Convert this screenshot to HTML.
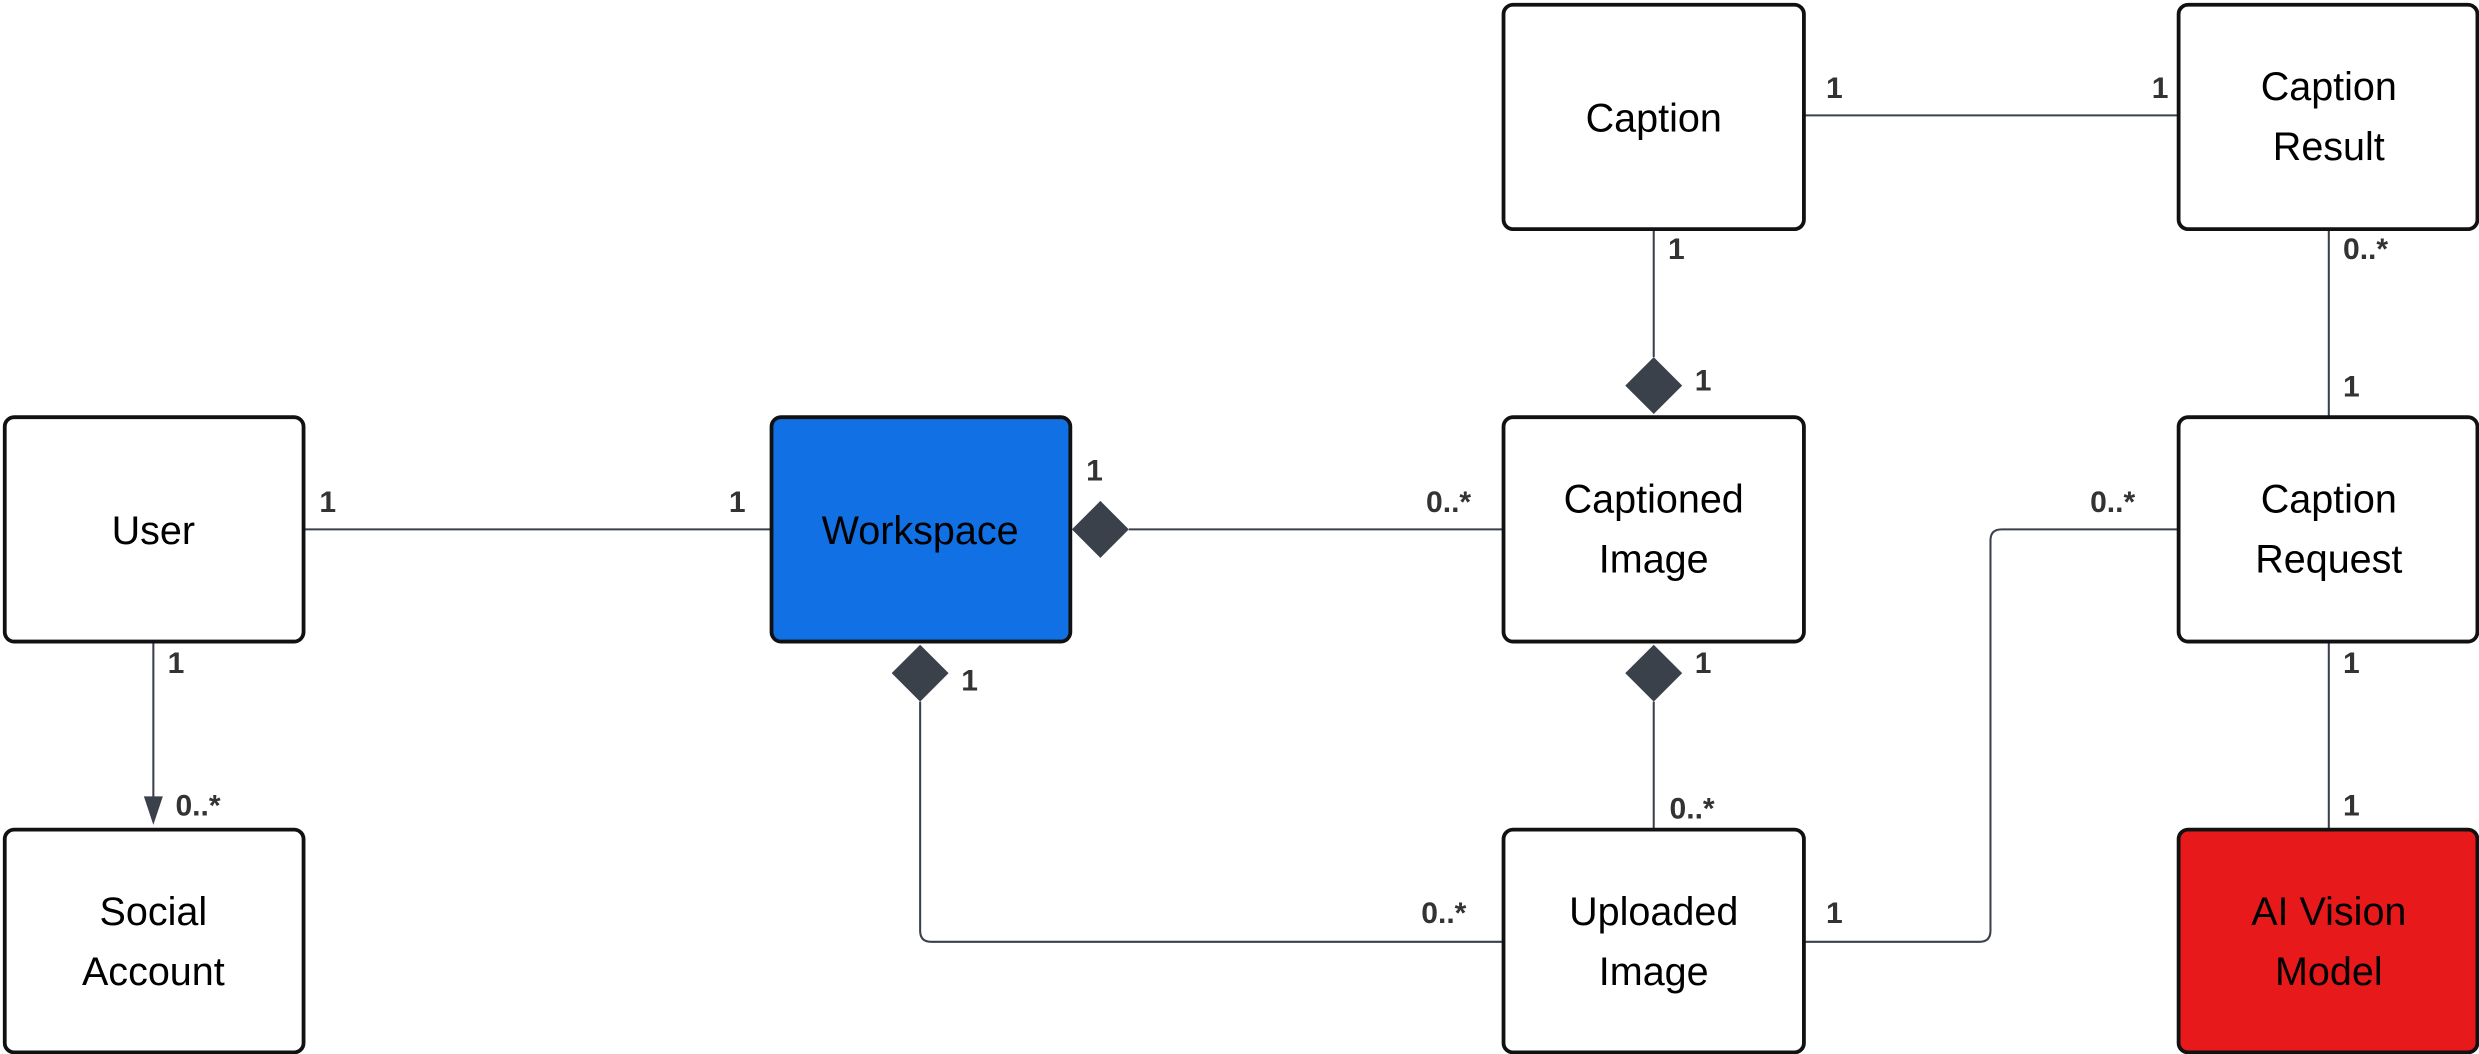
<!DOCTYPE html>
<html><head><meta charset="utf-8"><style>
html,body{margin:0;padding:0;background:#fff;overflow:hidden}
svg{display:block}
.b{stroke:#111;stroke-width:2.4;fill:#fff}
.t{font-family:"Liberation Sans",sans-serif;font-size:25px;fill:#000;text-anchor:middle;dominant-baseline:central}
.l{font-family:"Liberation Sans",sans-serif;font-size:19px;font-weight:bold;fill:#333;dominant-baseline:central}
.c{stroke:#3a414b;stroke-width:1.3;fill:none}
.d{fill:#3a414b}
</style></head><body>
<svg width="2479" height="1054" viewBox="0 0 1568 667" preserveAspectRatio="none">
<line class="c" x1="192" y1="335" x2="488" y2="335"/>
<line class="c" x1="714" y1="335" x2="951" y2="335"/>
<path class="c" d="M582 444 V589 Q582 596 589 596 H951"/>
<line class="c" x1="97" y1="406" x2="97" y2="506"/>
<polygon class="d" points="91,504 103,504 97,522"/>
<line class="c" x1="1046" y1="145" x2="1046" y2="226"/>
<line class="c" x1="1046" y1="444" x2="1046" y2="525"/>
<line class="c" x1="1141" y1="73" x2="1378" y2="73"/>
<line class="c" x1="1473" y1="145" x2="1473" y2="264"/>
<line class="c" x1="1473" y1="406" x2="1473" y2="525"/>
<path class="c" d="M1141 596 H1252 Q1259 596 1259 589 V342 Q1259 335 1266 335 H1378"/>
<polygon class="d" points="678,335 696,317 714,335 696,353"/>
<polygon class="d" points="582,408 600,426 582,444 564,426"/>
<polygon class="d" points="1046,226 1064,244 1046,262 1028,244"/>
<polygon class="d" points="1046,408 1064,426 1046,444 1028,426"/>
<rect class="b" x="3" y="264" width="189" height="142" rx="6"/>
<rect class="b" x="488" y="264" width="189" height="142" rx="6" style="fill:#1170E3"/>
<rect class="b" x="3" y="525" width="189" height="141" rx="6"/>
<rect class="b" x="951" y="3" width="190" height="142" rx="6"/>
<rect class="b" x="1378" y="3" width="189" height="142" rx="6"/>
<rect class="b" x="951" y="264" width="190" height="142" rx="6"/>
<rect class="b" x="1378" y="264" width="189" height="142" rx="6"/>
<rect class="b" x="951" y="525" width="190" height="141" rx="6"/>
<rect class="b" x="1378" y="525" width="189" height="141" rx="6" style="fill:#E8191A"/>
<text class="t" x="97" y="336">User</text>
<text class="t" x="582" y="336">Workspace</text>
<text class="t" x="97" y="577">Social</text><text class="t" x="97" y="615">Account</text>
<text class="t" x="1046" y="75">Caption</text>
<text class="t" x="1473" y="55">Caption</text><text class="t" x="1473" y="93">Result</text>
<text class="t" x="1046" y="316">Captioned</text><text class="t" x="1046" y="354">Image</text>
<text class="t" x="1473" y="316">Caption</text><text class="t" x="1473" y="354">Request</text>
<text class="t" x="1046" y="577">Uploaded</text><text class="t" x="1046" y="615">Image</text>
<text class="t" x="1473" y="577">AI Vision</text><text class="t" x="1473" y="615">Model</text>
<text class="l" x="202" y="318">1</text>
<text class="l" x="461" y="318">1</text>
<text class="l" x="687" y="298">1</text>
<text class="l" x="902" y="318">0..*</text>
<text class="l" x="608" y="431">1</text>
<text class="l" x="899" y="578">0..*</text>
<text class="l" x="106" y="420">1</text>
<text class="l" x="111" y="510">0..*</text>
<text class="l" x="1055" y="158">1</text>
<text class="l" x="1072" y="241">1</text>
<text class="l" x="1072" y="420">1</text>
<text class="l" x="1056" y="512">0..*</text>
<text class="l" x="1155" y="56">1</text>
<text class="l" x="1361" y="56">1</text>
<text class="l" x="1482" y="158">0..*</text>
<text class="l" x="1482" y="245">1</text>
<text class="l" x="1482" y="420">1</text>
<text class="l" x="1482" y="510">1</text>
<text class="l" x="1155" y="578">1</text>
<text class="l" x="1322" y="318">0..*</text>
</svg>
</body></html>
